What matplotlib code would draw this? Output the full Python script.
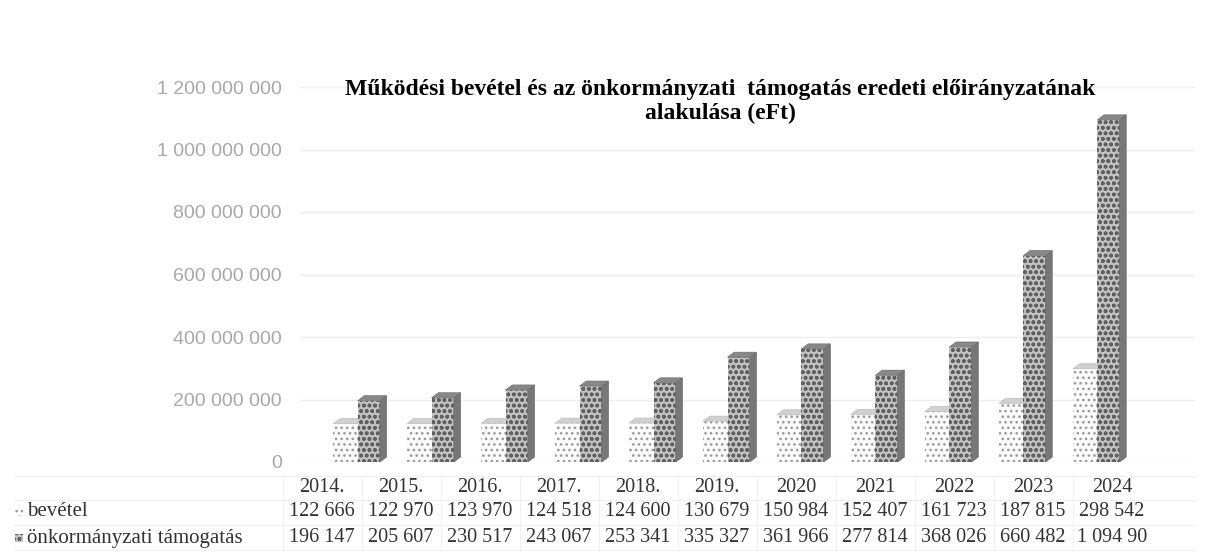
import numpy as np
import matplotlib
matplotlib.use("Agg")
import matplotlib.pyplot as plt
from matplotlib.patches import Polygon, Rectangle

years = ["2014.", "2015.", "2016.", "2017.", "2018.", "2019.",
         "2020", "2021", "2022", "2023", "2024"]
bevetel = [122666, 122970, 123970, 124518, 124600, 130679,
           150984, 152407, 161723, 187815, 298542]
tamogatas = [196147, 205607, 230517, 243067, 253341, 335327,
             361966, 277814, 368026, 660482, 1094900]
bevetel_lbl = ["122 666", "122 970", "123 970", "124 518", "124 600", "130 679",
               "150 984", "152 407", "161 723", "187 815", "298 542"]
tamogatas_lbl = ["196 147", "205 607", "230 517", "243 067", "253 341", "335 327",
                 "361 966", "277 814", "368 026", "660 482", "1 094 90"]
yticks = [0, 200e6, 400e6, 600e6, 800e6, 1000e6, 1200e6]
ytick_lbl = ["0", "200 000 000", "400 000 000", "600 000 000",
             "800 000 000", "1 000 000 000", "1 200 000 000"]
title = ("Működési bevétel és az önkormányzati  támogatás eredeti előirányzatának\n"
         "alakulása (eFt)")

W, H = 1208, 558
plt.rcParams["hatch.linewidth"] = 1.1
fig = plt.figure(figsize=(W / 100, H / 100), dpi=100)

# plot area in pixels
left, right, top, bottom = 300, 1195, 87, 462
ax = fig.add_axes([left / W, 1 - bottom / H, (right - left) / W, (bottom - top) / H])
ax.set_xlim(-0.78, 11.32)
ax.set_ylim(0, 1200e6)
ax.set_yticks(yticks)
ax.set_yticklabels(ytick_lbl, fontsize=14, color="#a8a8a8", family="Liberation Sans")
ax.tick_params(axis="y", length=0, pad=13)
ax.set_xticks([])
for s in ax.spines.values():
    s.set_visible(False)
ax.grid(axis="y", color="#efefef", lw=1)
ax.set_axisbelow(True)

x = np.arange(len(years))
b1 = np.array(bevetel) * 1000.0
b2 = np.array(tamogatas) * 1000.0
w1, w2 = 0.33, 0.30
dx, dy = 0.09, 16e6

for i in x:
    # bevétel (light dotted)
    x0, x1 = i - w1, i
    ax.add_patch(Rectangle((x0, 0), w1, b1[i], facecolor="#fbfbfb", edgecolor="#9a9a9a",
                           hatch="...", lw=0, zorder=2))
    ax.add_patch(Polygon([(x0, b1[i]), (x1, b1[i]), (x1 + dx, b1[i] + dy), (x0 + dx, b1[i] + dy)],
                         closed=True, facecolor="#d0d0d0", edgecolor="#bdbdbd", lw=0.5, zorder=2))
    # támogatás (dark hatched, 3D)
    x0, x1 = i, i + w2
    ax.add_patch(Rectangle((x0, 0), w2, b2[i], facecolor="#c2c2c2", edgecolor="#606060",
                           hatch="ooo", lw=0, zorder=3))
    ax.add_patch(Polygon([(x1, 0), (x1, b2[i]), (x1 + dx, b2[i] + dy), (x1 + dx, dy)],
                         closed=True, facecolor="#777777", edgecolor="#6a6a6a", lw=0.5, zorder=3))
    ax.add_patch(Polygon([(x0, b2[i]), (x1, b2[i]), (x1 + dx, b2[i] + dy), (x0 + dx, b2[i] + dy)],
                         closed=True, facecolor="#888888", edgecolor="#707070", lw=0.5, zorder=3))

fig.text(0.596, 1 - 79 / H, title, ha="center", va="top", fontsize=17,
         fontweight="bold", family="Liberation Serif", linespacing=1.2)

# data table below the chart, pixel coordinates
tx = fig.add_axes([0, 0, 1, 1])
tx.set_xlim(0, W)
tx.set_ylim(H, 0)
tx.axis("off")
cols = 322 + 79 * x
rows_y = [488, 512, 538]
line_c = "#f0f0f0"
for yy in [476, 500, 525, 550]:
    tx.plot([14, 1195], [yy, yy], color=line_c, lw=0.8)
for cx in cols:
    tx.plot([cx - 39.5, cx - 39.5], [476, 550], color=line_c, lw=0.8)
tfont = dict(fontsize=14.5, family="Liberation Serif", color="#333333", va="center", ha="center")
for i in x:
    tx.text(cols[i], rows_y[0], years[i], **tfont)
    tx.text(cols[i], rows_y[1], bevetel_lbl[i], **tfont)
    tx.text(cols[i], rows_y[2], tamogatas_lbl[i], **tfont)
tx.add_patch(Rectangle((15, rows_y[1] - 4), 8, 8, facecolor="white", edgecolor="#9a9a9a", hatch="...", lw=0))
tx.add_patch(Rectangle((15, rows_y[2] - 4), 8, 8, facecolor="#c2c2c2", edgecolor="#606060", hatch="ooo", lw=0))
tx.text(27, rows_y[1], "bevétel", fontsize=15, family="Liberation Serif", color="#333333", va="center")
tx.text(27, rows_y[2], "önkormányzati támogatás", fontsize=15, family="Liberation Serif",
        color="#333333", va="center")

fig.savefig("out.png", dpi=100)
